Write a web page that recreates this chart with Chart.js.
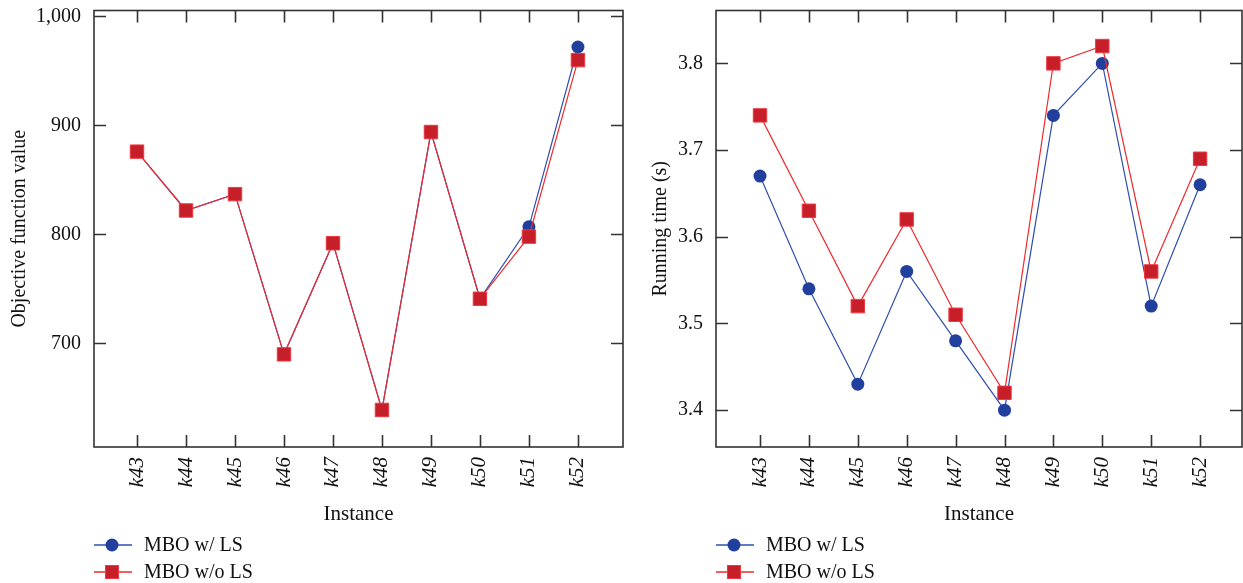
<!DOCTYPE html>
<html><head><meta charset="utf-8">
<script src="https://cdn.jsdelivr.net/npm/chart.js@4/dist/chart.umd.min.js"></script>
<style>
html,body{margin:0;padding:0;background:#fff;}
#wrap{position:relative;width:1243px;height:583px;overflow:hidden;font-family:"Liberation Serif",serif;}
#c1{position:absolute;left:0;top:0;}
#c2{position:absolute;left:620px;top:0;}
.leg{position:absolute;font-size:20px;color:#111;}
.row{position:absolute;left:0;white-space:nowrap;height:20px;line-height:20px;}
.row svg{position:absolute;left:0;top:0;}
.row span{position:absolute;left:50px;top:-1px;}
</style></head>
<body><div id="wrap">
<canvas id="c1" width="640" height="583"></canvas>
<canvas id="c2" width="633" height="583"></canvas>
<div class="leg" style="left:94px;top:535px;">
 <div class="row" style="top:0"><svg width="40" height="20"><line x1="0" y1="10" x2="38" y2="10" stroke="#2e4fae" stroke-width="1.3"/><circle cx="18" cy="10" r="6.5" fill="#213f9c"/></svg><span>MBO w/ LS</span></div>
 <div class="row" style="top:27px"><svg width="40" height="20"><line x1="0" y1="10" x2="38" y2="10" stroke="#ee2a2f" stroke-width="1.3"/><rect x="11.5" y="3.5" width="13" height="13" fill="#c61f2a" stroke="#ee3a40" stroke-width="1"/></svg><span>MBO w/o LS</span></div>
</div>
<div class="leg" style="left:716px;top:535px;">
 <div class="row" style="top:0"><svg width="40" height="20"><line x1="0" y1="10" x2="38" y2="10" stroke="#2e4fae" stroke-width="1.3"/><circle cx="18" cy="10" r="6.5" fill="#213f9c"/></svg><span>MBO w/ LS</span></div>
 <div class="row" style="top:27px"><svg width="40" height="20"><line x1="0" y1="10" x2="38" y2="10" stroke="#ee2a2f" stroke-width="1.3"/><rect x="11.5" y="3.5" width="13" height="13" fill="#c61f2a" stroke="#ee3a40" stroke-width="1"/></svg><span>MBO w/o LS</span></div>
</div>
</div>
<script>
const instances = ['k43','k44','k45','k46','k47','k48','k49','k50','k51','k52'];
const objWithLS    = [876, 822, 837, 690, 792, 639, 894, 741, 807, 972];
const objWithoutLS = [876, 822, 837, 690, 792, 639, 894, 741, 798, 960];
const timeWithLS    = [3.67, 3.54, 3.43, 3.56, 3.48, 3.40, 3.74, 3.80, 3.52, 3.66];
const timeWithoutLS = [3.74, 3.63, 3.52, 3.62, 3.51, 3.42, 3.80, 3.82, 3.56, 3.69];
const objTicks  = [700, 800, 900, 1000];
const timeTicks = [3.4, 3.5, 3.6, 3.7, 3.8];

const FONT = "'Liberation Serif', serif";
const BLUE_LINE = '#2e4fae', BLUE_FILL = '#213f9c';
const RED_LINE = '#ee2a2f', RED_FILL = '#c61f2a', RED_EDGE = '#ee3a40';

const frameTicks = {
  id: 'frameTicks',
  beforeDatasetsDraw(chart) {
    const {ctx, chartArea: a, scales: {x, y}} = chart;
    ctx.save();
    ctx.strokeStyle = '#333';
    ctx.lineWidth = 1.6;
    ctx.strokeRect(a.left, a.top, a.right - a.left, a.bottom - a.top);
    ctx.beginPath();
    x.ticks.forEach(t => {
      const px = Math.round(x.getPixelForValue(t.value)) + 0.5;
      ctx.moveTo(px, a.bottom); ctx.lineTo(px, a.bottom - 12);
      ctx.moveTo(px, a.top); ctx.lineTo(px, a.top + 12);
    });
    y.ticks.forEach(t => {
      const py = Math.round(y.getPixelForValue(t.value)) + 0.5;
      ctx.moveTo(a.left, py); ctx.lineTo(a.left + 12, py);
      ctx.moveTo(a.right, py); ctx.lineTo(a.right - 12, py);
    });
    ctx.stroke();
    ctx.restore();
  }
};

function makeChart(id, withLS, withoutLS, yTicks, yMin, yMax, xMin, xMax, yTitle, padRight, yWidth, yTitlePad) {
  const toPts = arr => arr.map((v, i) => ({x: i, y: v}));
  return new Chart(document.getElementById(id), {
    type: 'line',
    data: {
      datasets: [
        {label: 'MBO w/ LS', data: toPts(withLS), borderColor: BLUE_LINE, borderWidth: 1.2,
         pointStyle: 'circle', pointRadius: 6.5, pointBackgroundColor: BLUE_FILL, pointBorderColor: BLUE_FILL,
         pointBorderWidth: 0, order: 1, tension: 0},
        {label: 'MBO w/o LS', data: toPts(withoutLS), borderColor: RED_LINE, borderWidth: 1.2,
         pointStyle: 'rect', pointRadius: 9.5, pointBackgroundColor: RED_FILL, pointBorderColor: RED_EDGE,
         pointBorderWidth: 1, order: 0, tension: 0}
      ]
    },
    options: {
      responsive: false, animation: false, devicePixelRatio: 1,
      layout: {padding: {left: 0, top: 9, right: padRight, bottom: 0}},
      plugins: {legend: {display: false}, tooltip: {enabled: false}},
      scales: {
        x: {
          type: 'linear', min: xMin, max: xMax,
          grid: {display: false}, border: {display: false},
          afterBuildTicks: s => { s.ticks = instances.map((_, i) => ({value: i})); },
          afterFit: s => { s.height = 136; s.paddingLeft = 0; s.paddingRight = 0; },
          ticks: {
            autoSkip: false, minRotation: 90, maxRotation: 90, padding: 2,
            color: '#111', font: {family: FONT, size: 21, style: 'italic'},
            callback: v => instances[v]
          },
          title: {display: true, text: 'Instance', color: '#111', font: {family: FONT, size: 21},
                  padding: {top: 0, bottom: 56}}
        },
        y: {
          type: 'linear', min: yMin, max: yMax,
          grid: {display: false}, border: {display: false},
          afterBuildTicks: s => { s.ticks = yTicks.map(v => ({value: v})); },
          afterFit: s => { s.width = yWidth; s.paddingTop = 0; s.paddingBottom = 0; },
          ticks: {padding: 5, color: '#111', font: {family: FONT, size: 20}},
          title: {display: true, text: yTitle, color: '#111', font: {family: FONT, size: 20},
                  padding: {top: yTitlePad, bottom: 0}}
        }
      }
    },
    plugins: [frameTicks]
  });
}

makeChart('c1', objWithLS, objWithoutLS, objTicks, 605, 1005.5, -0.878, 9.92, 'Objective function value', 17, 94, 8);
makeChart('c2', timeWithLS, timeWithoutLS, timeTicks, 3.3575, 3.861, -0.9, 9.857, 'Running time (s)', 11, 96, 29);
</script>
</body></html>
